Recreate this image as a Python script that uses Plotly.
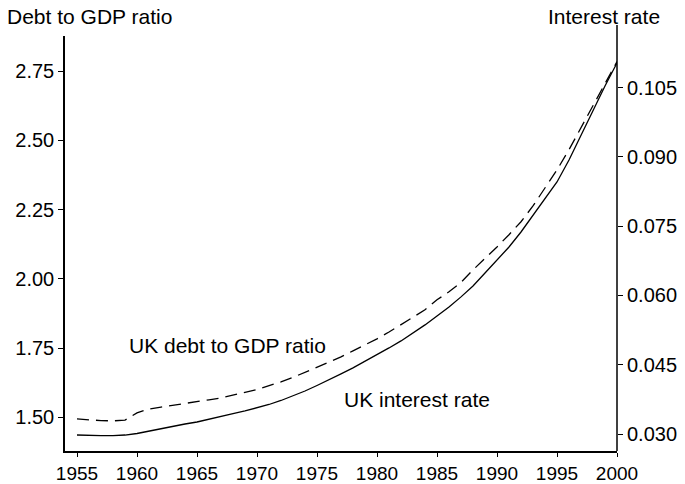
import plotly.graph_objects as go

years = list(range(1955, 2001))

debt_ratio = [1.494, 1.490, 1.488, 1.487, 1.490, 1.516, 1.530, 1.537, 1.543, 1.550,
              1.555, 1.563, 1.570, 1.579, 1.590, 1.600, 1.613, 1.628, 1.644, 1.662,
              1.682, 1.700, 1.718, 1.740, 1.761, 1.783, 1.808, 1.833, 1.861, 1.888,
              1.924, 1.953, 1.987, 2.032, 2.072, 2.115, 2.159, 2.206, 2.263, 2.328,
              2.393, 2.466, 2.545, 2.621, 2.700, 2.784]

interest_rate = [0.02978, 0.02967, 0.02967, 0.02967, 0.02978, 0.03011, 0.03065, 0.03108,
                 0.03163, 0.03217, 0.03260, 0.03325, 0.03379, 0.03444, 0.03499, 0.03564,
                 0.03639, 0.03726, 0.03824, 0.03932, 0.04051, 0.04171, 0.04301, 0.04431,
                 0.04572, 0.04713, 0.04864, 0.05016, 0.05189, 0.05363, 0.05558, 0.05753,
                 0.05970, 0.06206, 0.06487, 0.06769, 0.07050, 0.07375, 0.07743, 0.08090,
                 0.08458, 0.08935, 0.09476, 0.10018, 0.10537, 0.11036]

x_ticks = [1955, 1960, 1965, 1970, 1975, 1980, 1985, 1990, 1995, 2000]
left_ticks = [1.50, 1.75, 2.00, 2.25, 2.50, 2.75]
right_ticks = [0.030, 0.045, 0.060, 0.075, 0.090, 0.105]

FONT = "Liberation Sans, Arial, Helvetica, sans-serif"
FS = 20
FS_X = 19
FS_TXT = 21

fig = go.Figure()
fig.add_trace(go.Scatter(x=years, y=debt_ratio, mode="lines", name="UK debt to GDP ratio",
                         line=dict(color="black", width=1.3, dash="12px,7px"), yaxis="y"))
fig.add_trace(go.Scatter(x=years, y=interest_rate, mode="lines", name="UK interest rate",
                         line=dict(color="black", width=1.3), yaxis="y2"))

fig.update_layout(
    width=685, height=484,
    margin=dict(l=65, r=68, t=36, b=33, autoexpand=False),
    paper_bgcolor="white", plot_bgcolor="white",
    showlegend=False,
    font=dict(family=FONT, size=FS, color="black"),
    xaxis=dict(range=[1954, 2000], tickvals=x_ticks, ticktext=[str(v) for v in x_ticks],
               showgrid=False, zeroline=False, showline=True, linecolor="black", linewidth=1.5,
               ticks="outside", ticklen=4, tickwidth=1, tickcolor="black",
               tickfont=dict(family=FONT, size=FS_X)),
    yaxis=dict(range=[1.3783, 2.8764], tickvals=left_ticks,
               ticktext=[f"{v:.2f}" for v in left_ticks],
               showgrid=False, zeroline=False, showline=True, linecolor="black", linewidth=1.5,
               ticks="outside", ticklen=5, tickwidth=1, tickcolor="black",
               tickfont=dict(family=FONT, size=FS)),
    yaxis2=dict(range=[0.02632, 0.1162], tickvals=right_ticks,
                ticktext=[f"{v:.3f}" for v in right_ticks],
                overlaying="y", side="right",
                showgrid=False, zeroline=False, showline=False,
                ticks="outside", ticklen=5, tickwidth=1, tickcolor="black",
                tickfont=dict(family=FONT, size=FS)),
    shapes=[
        dict(type="line", xref="paper", yref="paper", x0=1, x1=1, y0=0, y1=1.0265,
             line=dict(color="black", width=1.5)),
    ],
    annotations=[
        dict(text="Debt to GDP ratio", xref="paper", yref="paper", x=-0.1087, y=1.0458,
             xanchor="left", yanchor="middle", showarrow=False, font=dict(family=FONT, size=FS_TXT)),
        dict(text="Interest rate", xref="paper", yref="paper", x=0.9764, y=1.048,
             xanchor="center", yanchor="middle", showarrow=False, font=dict(family=FONT, size=FS_TXT)),
        dict(text="UK debt to GDP ratio", xref="x", yref="y", x=1959.2, y=1.7576,
             xanchor="left", yanchor="middle", showarrow=False, font=dict(family=FONT, size=FS_TXT)),
        dict(text="UK interest rate", xref="x", yref="y", x=1977.1, y=1.5625,
             xanchor="left", yanchor="middle", showarrow=False, font=dict(family=FONT, size=FS_TXT)),
    ],
)

fig.write_html("out.html", config={"displayModeBar": False},
               post_script="document.body.style.margin='0px';")
